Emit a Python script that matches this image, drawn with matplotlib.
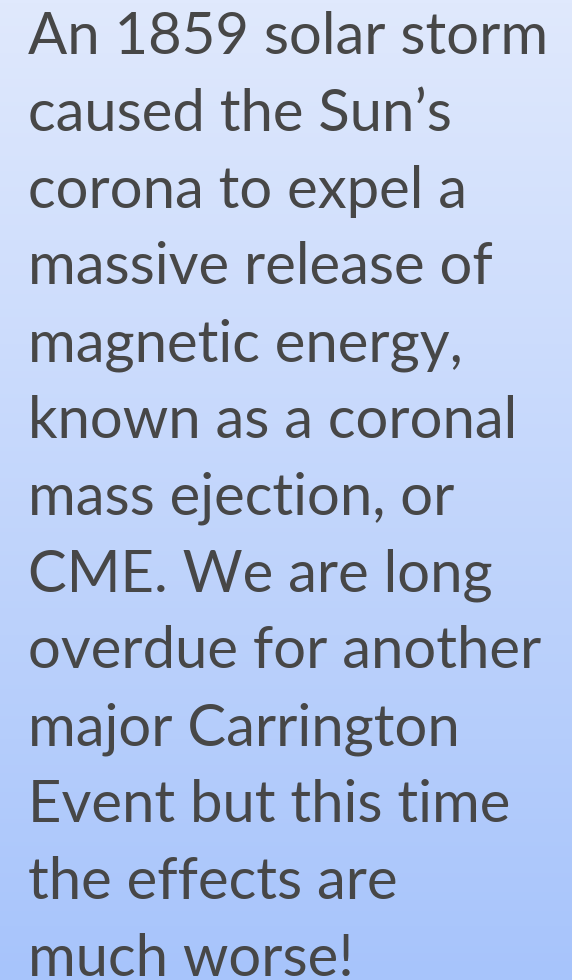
import numpy as np
from matplotlib import pyplot as plt
from matplotlib.colors import LinearSegmentedColormap

# Text lines as they wrap in the picture
lines = [
    "An 1859 solar storm",
    "caused the Sun\u2019s",
    "corona to expel a",
    "massive release of",
    "magnetic energy,",
    "known as a coronal",
    "mass ejection, or",
    "CME. We are long",
    "overdue for another",
    "major Carrington",
    "Event but this time",
    "the effects are",
    "much worse!",
]

# Layout in pixels
width_px, height_px = 572, 980
left_px = 28
first_base_px = 54
line_step_px = 76.8

fig = plt.figure(figsize=(width_px / 100, height_px / 100), dpi=100)
ax = fig.add_axes([0, 0, 1, 1])
ax.set_axis_off()

# Vertical background gradient
grad = LinearSegmentedColormap.from_list("bg", ["#e0e9fd", "#a7c4fb"])
ax.imshow(np.linspace(0, 1, 256)[:, None], aspect="auto", cmap=grad,
          extent=[0, 1, 0, 1])
ax.set_xlim(0, 1)
ax.set_ylim(0, 1)

for i, line in enumerate(lines):
    y = 1 - (first_base_px + i * line_step_px) / height_px
    fig.text(left_px / width_px, y, line, fontsize=41.8, family="Lato",
             color="#474747", va="baseline", ha="left")

fig.savefig("out.png", dpi=100)
